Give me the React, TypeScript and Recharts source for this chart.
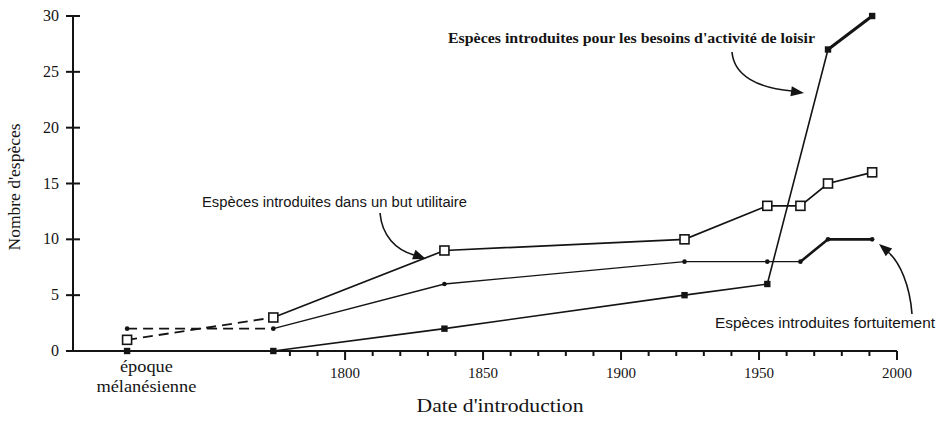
import React from 'react';
import { LineChart, Line, XAxis, YAxis } from 'recharts';

// ---- data ----
const years = [1721, 1774, 1836, 1923, 1953, 1965, 1975, 1991]; // first = "époque mélanésienne"
const utilitaire = [1, 3, 9, 10, 13, 13, 15, 16];
const fortuit = [2, 2, 6, 8, 8, 8, 10, 10];
const loisir: (number | null)[] = [0, 0, 2, 5, 6, null, 27, 30];
const yTicks = [0, 5, 10, 15, 20, 25, 30];
const xMajorTicks = [1800, 1850, 1900, 1950, 2000];
const xMinorTicks = [1780, 1790, 1810, 1820, 1830, 1840, 1860, 1870, 1880, 1890, 1910, 1920, 1930, 1940, 1960, 1970, 1980, 1990];
const melTick = 1728;
const melLabel = ['époque', 'mélanésienne'];
const xDomain: [number, number] = [1701.4, 2000];
const yDomain: [number, number] = [0, 30];
const dashEndIndex = 1;
const fortThickStart = 5;
const loisThickStart = 6;

const seg = (arr: (number | null)[], from: number, to: number) =>
  arr.map((v, i) => (i >= from && i <= to ? v : null));

const last = years.length - 1;
const uDash = seg(utilitaire, 0, dashEndIndex);
const uSolid = seg(utilitaire, dashEndIndex, last);
const fDash = seg(fortuit, 0, dashEndIndex);
const fSolid = seg(fortuit, dashEndIndex, fortThickStart);
const fThick = seg(fortuit, fortThickStart, last);
const lDash = seg(loisir, 0, dashEndIndex);
const lSolid = seg(loisir, dashEndIndex, loisThickStart);
const lThick = seg(loisir, loisThickStart, last);

const data = years.map((x, i) => ({
  x,
  util: utilitaire[i],
  fort: fortuit[i],
  lois: loisir[i],
  uDash: uDash[i],
  uSolid: uSolid[i],
  fDash: fDash[i],
  fSolid: fSolid[i],
  fThick: fThick[i],
  lDash: lDash[i],
  lSolid: lSolid[i],
  lThick: lThick[i],
}));

const xTicks = [melTick, ...xMinorTicks, ...xMajorTicks].sort((a, b) => a - b);

const W = 942, H = 429;
const M = { top: 16, right: 45, bottom: 0, left: 0 };
const Y_AXIS_W = 73, X_AXIS_H = 78;

const INK = '#141414';
const SERIF = '"Liberation Serif", "DejaVu Serif", serif';
const SANS = '"Liberation Sans", Arial, sans-serif';

const XTick = (props: any) => {
  const x = Number(props.x);
  const y = Number(props.y);
  const v = props.payload.value;
  if (v === melTick) {
    return (
      <g>
        <text x={x} y={y + 21} textAnchor="middle" fontFamily={SERIF} fontSize={17} fill={INK} textLength={53} lengthAdjust="spacingAndGlyphs">{melLabel[0]}</text>
        <text x={x} y={y + 41} textAnchor="middle" fontFamily={SERIF} fontSize={17} fill={INK} textLength={100} lengthAdjust="spacingAndGlyphs">{melLabel[1]}</text>
      </g>
    );
  }
  const major = xMajorTicks.includes(v);
  return (
    <g>
      <rect x={x - 1} y={y} width={2} height={major ? 9 : 5} fill={INK} />
      {major && (
        <text x={x} y={y + 27} textAnchor="middle" fontFamily={SERIF} fontSize={15} fill={INK}>{v}</text>
      )}
    </g>
  );
};

const YTick = (props: any) => {
  const x = Number(props.x);
  const y = Number(props.y);
  return (
    <g>
      <rect x={x - 7} y={y - 1} width={14} height={2} fill={INK} />
      <text x={x - 14} y={y + 5} textAnchor="end" fontFamily={SERIF} fontSize={16} fill={INK}>{props.payload.value}</text>
    </g>
  );
};

const OpenSquare = (props: any) => {
  const { cx, cy, index } = props;
  if (cx == null || cy == null || props.value == null) return <g key={`os${index}`} />;
  return <rect key={`os${index}`} x={cx - 4.5} y={cy - 4.5} width={9} height={9} fill="#fff" stroke={INK} strokeWidth={1.6} />;
};
const FilledSquare = (props: any) => {
  const { cx, cy, index } = props;
  if (cx == null || cy == null || props.value == null) return <g key={`fs${index}`} />;
  return <rect key={`fs${index}`} x={cx - 3.2} y={cy - 3.2} width={6.4} height={6.4} fill={INK} />;
};
const SmallDot = (props: any) => {
  const { cx, cy, index } = props;
  if (cx == null || cy == null || props.value == null) return <g key={`sd${index}`} />;
  return <circle key={`sd${index}`} cx={cx} cy={cy} r={2.3} fill={INK} />;
};

const Arrow = ({ d, tip, angle }: { d: string; tip: [number, number]; angle: number }) => (
  <g>
    <path d={d} fill="none" stroke={INK} strokeWidth={1.6} />
    <polygon
      points="0,0 -13,-5 -13,5"
      transform={`translate(${tip[0]},${tip[1]}) rotate(${angle})`}
      fill={INK}
    />
  </g>
);

export default function App() {
  return (
    <div style={{ position: 'absolute', left: 0, top: 0, width: W, height: H, background: '#fff' }}>
      <LineChart width={W} height={H} data={data} margin={M}>
        <XAxis
          type="number"
          dataKey="x"
          domain={xDomain}
          ticks={xTicks}
          interval={0}
          height={X_AXIS_H}
          tickLine={false}
          tickSize={0}
          tickMargin={0}
          axisLine={{ stroke: INK, strokeWidth: 2 }}
          tick={<XTick />}
        />
        <YAxis
          type="number"
          domain={yDomain}
          ticks={yTicks}
          interval={0}
          width={Y_AXIS_W}
          tickLine={false}
          tickSize={0}
          tickMargin={0}
          axisLine={{ stroke: INK, strokeWidth: 2 }}
          tick={<YTick />}
        />
        <Line dataKey="uDash" stroke={INK} strokeWidth={1.8} strokeDasharray="10 6" dot={false} isAnimationActive={false} />
        <Line dataKey="fDash" stroke={INK} strokeWidth={1.8} strokeDasharray="10 6" dot={false} isAnimationActive={false} />
        <Line dataKey="lDash" stroke={INK} strokeWidth={1.8} strokeDasharray="12 7" dot={false} isAnimationActive={false} />
        <Line dataKey="uSolid" stroke={INK} strokeWidth={1.7} dot={false} isAnimationActive={false} />
        <Line dataKey="fSolid" stroke={INK} strokeWidth={1.4} dot={false} isAnimationActive={false} />
        <Line dataKey="fThick" stroke={INK} strokeWidth={2.6} dot={false} isAnimationActive={false} />
        <Line dataKey="lSolid" stroke={INK} strokeWidth={1.6} dot={false} connectNulls isAnimationActive={false} />
        <Line dataKey="lThick" stroke={INK} strokeWidth={3} dot={false} isAnimationActive={false} />
        <Line dataKey="util" stroke="none" dot={<OpenSquare />} activeDot={false} isAnimationActive={false} />
        <Line dataKey="fort" stroke="none" dot={<SmallDot />} activeDot={false} isAnimationActive={false} />
        <Line dataKey="lois" stroke="none" dot={<FilledSquare />} activeDot={false} isAnimationActive={false} />
      </LineChart>
      <svg width={W} height={H} style={{ position: 'absolute', left: 0, top: 0, pointerEvents: 'none' }}>
        <text x={15} y={187} transform="rotate(-90 15 187)" dy={5} textAnchor="middle" fontFamily={SERIF} fontSize={17} fill={INK} textLength={127} lengthAdjust="spacingAndGlyphs">
          Nombre d'espèces
        </text>
        <text x={500} y={412} textAnchor="middle" fontFamily={SERIF} fontSize={19} fill={INK} textLength={167} lengthAdjust="spacingAndGlyphs">
          Date d'introduction
        </text>
        <text x={448} y={43} fontFamily={SERIF} fontSize={15} fontWeight="bold" fill={INK} textLength={367} lengthAdjust="spacingAndGlyphs">
          Espèces introduites pour les besoins d'activité de loisir
        </text>
        <text x={202} y={207} fontFamily={SANS} fontSize={14} fill={INK} textLength={265} lengthAdjust="spacingAndGlyphs">
          Espèces introduites dans un but utilitaire
        </text>
        <text x={715} y={328} fontFamily={SANS} fontSize={14} fill={INK} textLength={220} lengthAdjust="spacingAndGlyphs">
          Espèces introduites fortuitement
        </text>
        <Arrow d="M732,52 C734,76 758,88 792,91" tip={[804, 93]} angle={8} />
        <Arrow d="M380,213 C382,236 396,250 414,255" tip={[426, 259]} angle={20} />
        <Arrow d="M912,314 C910,286 900,262 888,252" tip={[879, 244]} angle={-140} />
      </svg>
    </div>
  );
}
